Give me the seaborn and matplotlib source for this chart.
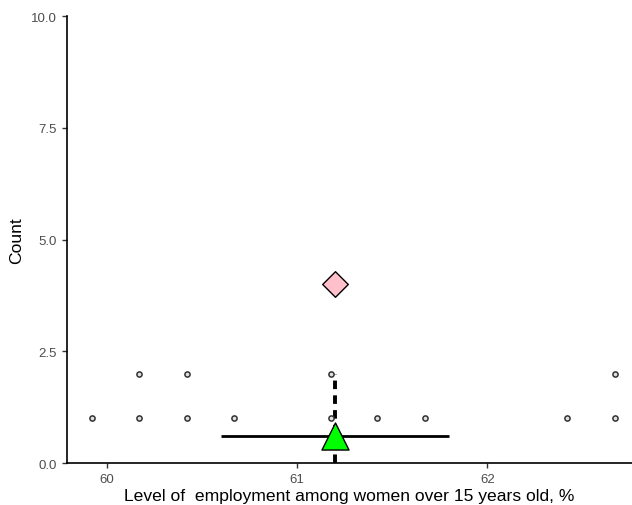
import numpy as np
import pandas as pd
import seaborn as sns
import matplotlib.pyplot as plt

# Dot values (x) and stacked counts (y)
dot_x = [59.92, 60.17, 60.17, 60.42, 60.42, 60.67, 61.18, 61.18, 61.42, 61.67, 62.42, 62.67, 62.67]
dot_y = [1, 1, 2, 1, 2, 1, 1, 2, 1, 1, 1, 1, 2]

# Summary markers
mean_x = 61.2
mean_y = 0.6
sd_low = 60.6
sd_high = 61.8
median_x = 61.2
median_top = 2
mode_x = 61.2
mode_y = 4

x_ticks = [60, 61, 62]
y_ticks = [0.0, 2.5, 5.0, 7.5, 10.0]

sns.set_theme(style="ticks")
plt.rcParams['font.family'] = ['Liberation Sans', 'DejaVu Sans']

fig = plt.figure(figsize=(6.32, 5.06), dpi=100)
ax = fig.add_axes([0.106, 0.083, 0.894, 0.883])

df = pd.DataFrame({"x": dot_x, "y": dot_y})

# SD line
ax.plot([sd_low, sd_high], [mean_y, mean_y], color="black", lw=2, zorder=2, solid_capstyle="butt")
# median dashed line
ax.plot([median_x, median_x], [0, median_top], color="black", lw=2.8, ls=(0, (2.2, 1.6)), zorder=3)

sns.scatterplot(data=df, x="x", y="y", ax=ax, s=14, color="#e0e0e0",
                edgecolor="#333333", linewidth=1.1, zorder=4, legend=False)

ax.scatter([mean_x], [mean_y], marker="^", s=380, color="#00ff00", edgecolor="black",
           linewidth=1, zorder=5)
ax.scatter([mode_x], [mode_y], marker="D", s=170, color="pink", edgecolor="black",
           linewidth=1, zorder=5)

ax.set_xlim(59.79, 62.76)
ax.set_ylim(0, 10)
ax.set_xticks(x_ticks)
ax.set_yticks(y_ticks)
ax.set_yticklabels([f"{v:.1f}" for v in y_ticks])
ax.tick_params(axis="both", colors="#4d4d4d", labelsize=9.5, length=3.5, width=1, pad=4)
ax.tick_params(axis="both", color="#333333")
for s in ["left", "bottom"]:
    ax.spines[s].set_linewidth(1.2)
    ax.spines[s].set_color("black")
sns.despine(ax=ax)

ax.set_xlabel("Level of  employment among women over 15 years old, %", fontsize=12.6, color="black", labelpad=1.5)
ax.set_ylabel("Count", fontsize=12.6, color="black", labelpad=5)

fig.savefig("out.png", dpi=100)
